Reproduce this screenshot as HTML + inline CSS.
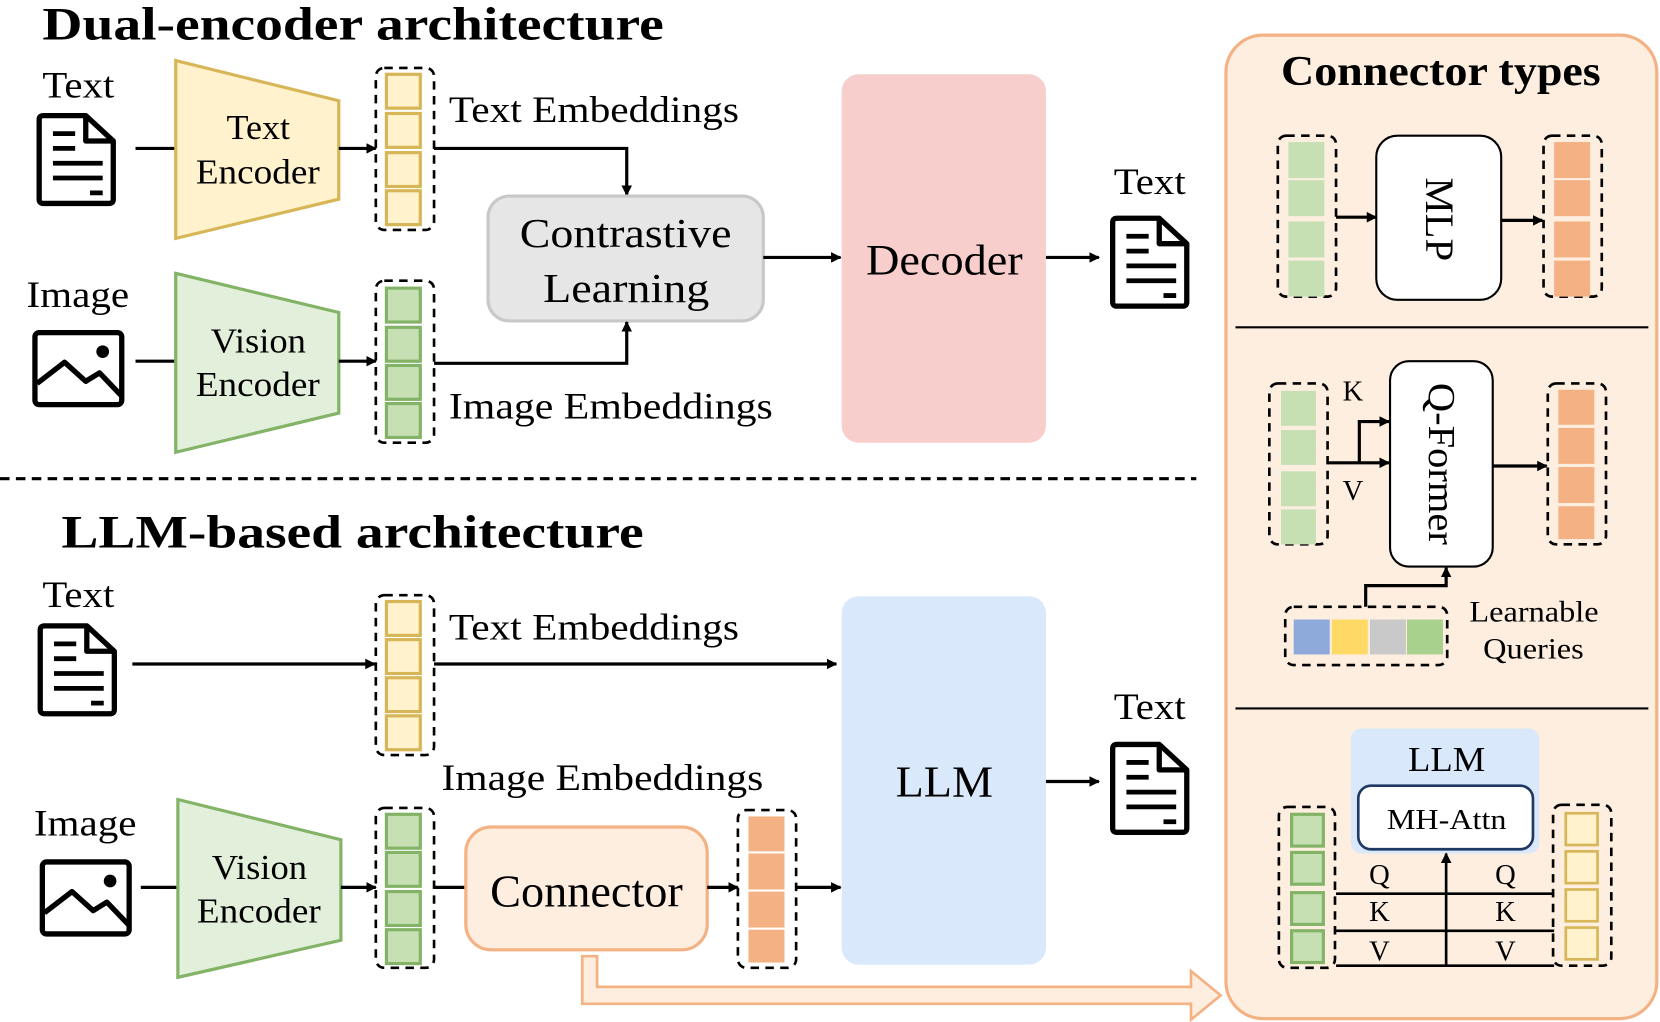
<!DOCTYPE html>
<html><head><meta charset="utf-8"><style>
html,body{margin:0;padding:0;background:#fff;width:1660px;height:1022px;overflow:hidden}
svg{display:block}
text{font-family:"Liberation Serif",serif;fill:#000}
</style></head><body>
<svg width="1660" height="1022" viewBox="0 0 1568 965" xmlns="http://www.w3.org/2000/svg">
<defs>
<marker id="ah" markerWidth="10" markerHeight="10" refX="9" refY="5" orient="auto" markerUnits="userSpaceOnUse"><path d="M0,0 L10,5 L0,10 z" fill="#000"/></marker>
<g id="doc"><path d="M4,3 H44 L70,27 V82 Q70,86 66,86 H4 Q0,86 0,82 V7 Q0,3 4,3 Z" fill="none" stroke="#000" stroke-width="5" stroke-linejoin="round"/><path d="M44,3 V27 H70" fill="none" stroke="#000" stroke-width="5" stroke-linejoin="round"/><path d="M13,20 H34 M13,34 H34 M13,48 H60 M13,62 H60 M48,76 H60" stroke="#000" stroke-width="4.5"/></g>
<g id="img"><rect x="2" y="2" width="82" height="68" rx="4" fill="none" stroke="#000" stroke-width="5"/><path d="M4,50 L30,30 L50,48 L63,40 L84,62" fill="none" stroke="#000" stroke-width="5" stroke-linejoin="round"/><circle cx="66" cy="20" r="6" fill="#000"/></g>
</defs>

<!-- ===== Top ===== -->
<text x="40" y="37" font-size="44" font-weight="bold" textLength="587" lengthAdjust="spacingAndGlyphs">Dual-encoder architecture</text>
<text x="40" y="92" font-size="35" textLength="68" lengthAdjust="spacingAndGlyphs">Text</text>
<use href="#doc" x="37" y="106"/>
<line x1="128" y1="140" x2="166" y2="140" stroke="#000" stroke-width="3"/>
<polygon points="166,57 320,95 320,188 166,225" fill="#fff2cc" stroke="#d6b656" stroke-width="3"/>
<text x="214" y="131" font-size="33" textLength="60" lengthAdjust="spacingAndGlyphs">Text</text>
<text x="185" y="173" font-size="33" textLength="117" lengthAdjust="spacingAndGlyphs">Encoder</text>
<line x1="320" y1="140" x2="355" y2="140" stroke="#000" stroke-width="3" marker-end="url(#ah)"/>
<rect x="355" y="64" width="55" height="153" rx="8" fill="none" stroke="#000" stroke-width="2.5" stroke-dasharray="8,6"/>
<g fill="#fff2cc" stroke="#d6b656" stroke-width="3"><rect x="365" y="70" width="32" height="32"/><rect x="365" y="107" width="32" height="32"/><rect x="365" y="144" width="32" height="32"/><rect x="365" y="180" width="32" height="32"/></g>
<text x="424" y="115" font-size="35" textLength="274" lengthAdjust="spacingAndGlyphs">Text Embeddings</text>
<polyline points="410,140 592,140 592,184" fill="none" stroke="#000" stroke-width="3" marker-end="url(#ah)"/>
<rect x="461" y="185" width="260" height="118" rx="20" fill="#e6e6e6" stroke="#c8c8c8" stroke-width="3"/>
<text x="491" y="233" font-size="39" textLength="200" lengthAdjust="spacingAndGlyphs">Contrastive</text>
<text x="513" y="285" font-size="39" textLength="157" lengthAdjust="spacingAndGlyphs">Learning</text>
<polyline points="410,343 592,343 592,304" fill="none" stroke="#000" stroke-width="3" marker-end="url(#ah)"/>
<text x="25" y="290" font-size="35" textLength="97" lengthAdjust="spacingAndGlyphs">Image</text>
<use href="#img" x="31" y="312"/>
<line x1="128" y1="341" x2="166" y2="341" stroke="#000" stroke-width="3"/>
<polygon points="166,258 320,295 320,390 166,427" fill="#e2efda" stroke="#82b366" stroke-width="3"/>
<text x="199" y="333" font-size="33" textLength="90" lengthAdjust="spacingAndGlyphs">Vision</text>
<text x="185" y="374" font-size="33" textLength="117" lengthAdjust="spacingAndGlyphs">Encoder</text>
<line x1="320" y1="341" x2="355" y2="341" stroke="#000" stroke-width="3" marker-end="url(#ah)"/>
<rect x="355" y="265" width="55" height="153" rx="8" fill="none" stroke="#000" stroke-width="2.5" stroke-dasharray="8,6"/>
<g fill="#c6e0b4" stroke="#82b366" stroke-width="3"><rect x="365" y="272" width="32" height="32"/><rect x="365" y="309" width="32" height="32"/><rect x="365" y="345" width="32" height="32"/><rect x="365" y="381" width="32" height="32"/></g>
<text x="424" y="395" font-size="35" textLength="306" lengthAdjust="spacingAndGlyphs">Image Embeddings</text>
<line x1="721" y1="243" x2="794" y2="243" stroke="#000" stroke-width="3" marker-end="url(#ah)"/>
<rect x="795" y="70" width="193" height="348" rx="16" fill="#f8cecc"/>
<text x="818" y="259" font-size="41" textLength="148" lengthAdjust="spacingAndGlyphs">Decoder</text>
<line x1="988" y1="243" x2="1038" y2="243" stroke="#000" stroke-width="3" marker-end="url(#ah)"/>
<text x="1052" y="183" font-size="35" textLength="68" lengthAdjust="spacingAndGlyphs">Text</text>
<use href="#doc" x="1051" y="203"/>

<line x1="0" y1="452" x2="1130" y2="452" stroke="#000" stroke-width="3" stroke-dasharray="9,6"/>

<!-- ===== Bottom ===== -->
<text x="58" y="517" font-size="44" font-weight="bold" textLength="550" lengthAdjust="spacingAndGlyphs">LLM-based architecture</text>
<text x="40" y="573" font-size="35" textLength="68" lengthAdjust="spacingAndGlyphs">Text</text>
<use href="#doc" x="38" y="588"/>
<line x1="125" y1="627" x2="354" y2="627" stroke="#000" stroke-width="3" marker-end="url(#ah)"/>
<rect x="355" y="562" width="55" height="151" rx="8" fill="none" stroke="#000" stroke-width="2.5" stroke-dasharray="8,6"/>
<g fill="#fff2cc" stroke="#d6b656" stroke-width="3"><rect x="365" y="568" width="32" height="32"/><rect x="365" y="604" width="32" height="32"/><rect x="365" y="640" width="32" height="32"/><rect x="365" y="676" width="32" height="32"/></g>
<text x="424" y="604" font-size="35" textLength="274" lengthAdjust="spacingAndGlyphs">Text Embeddings</text>
<line x1="410" y1="627" x2="790" y2="627" stroke="#000" stroke-width="3" marker-end="url(#ah)"/>
<rect x="795" y="563" width="193" height="348" rx="16" fill="#dae8fc"/>
<text x="846" y="752" font-size="42" textLength="92" lengthAdjust="spacingAndGlyphs">LLM</text>
<line x1="988" y1="738" x2="1038" y2="738" stroke="#000" stroke-width="3" marker-end="url(#ah)"/>
<text x="1052" y="679" font-size="35" textLength="68" lengthAdjust="spacingAndGlyphs">Text</text>
<use href="#doc" x="1051" y="700"/>
<text x="417" y="746" font-size="35" textLength="304" lengthAdjust="spacingAndGlyphs">Image Embeddings</text>
<text x="32" y="789" font-size="35" textLength="97" lengthAdjust="spacingAndGlyphs">Image</text>
<use href="#img" x="38" y="812"/>
<line x1="133" y1="838" x2="168" y2="838" stroke="#000" stroke-width="3"/>
<polygon points="168,755 322,793 322,888 168,923" fill="#e2efda" stroke="#82b366" stroke-width="3"/>
<text x="200" y="830" font-size="33" textLength="90" lengthAdjust="spacingAndGlyphs">Vision</text>
<text x="186" y="871" font-size="33" textLength="117" lengthAdjust="spacingAndGlyphs">Encoder</text>
<line x1="322" y1="838" x2="355" y2="838" stroke="#000" stroke-width="3" marker-end="url(#ah)"/>
<rect x="355" y="763" width="55" height="151" rx="8" fill="none" stroke="#000" stroke-width="2.5" stroke-dasharray="8,6"/>
<g fill="#c6e0b4" stroke="#82b366" stroke-width="3"><rect x="365" y="769" width="32" height="32"/><rect x="365" y="805" width="32" height="32"/><rect x="365" y="842" width="32" height="32"/><rect x="365" y="878" width="32" height="32"/></g>
<line x1="410" y1="838" x2="440" y2="838" stroke="#000" stroke-width="3"/>
<path d="M550,903 V948 H1125 V963 L1153,940 L1125,917 V932 H564 V903 Z" fill="#fdeee0" stroke="#f4b183" stroke-width="2.5"/>
<rect x="440" y="781" width="228" height="116" rx="24" fill="#fdeee0" stroke="#f4b183" stroke-width="3"/>
<text x="463" y="856" font-size="43" textLength="182" lengthAdjust="spacingAndGlyphs">Connector</text>
<line x1="668" y1="838" x2="697" y2="838" stroke="#000" stroke-width="3" marker-end="url(#ah)"/>
<rect x="697" y="765" width="55" height="149" rx="8" fill="none" stroke="#000" stroke-width="2.5" stroke-dasharray="8,6"/>
<g fill="#f4b183"><rect x="707" y="771" width="34" height="33"/><rect x="707" y="806" width="34" height="34"/><rect x="707" y="842" width="34" height="34"/><rect x="707" y="878" width="34" height="31"/></g>
<line x1="752" y1="838" x2="794" y2="838" stroke="#000" stroke-width="3" marker-end="url(#ah)"/>

<!-- ===== Right panel ===== -->
<rect x="1158" y="33" width="407" height="929" rx="35" fill="#fdeee0" stroke="#f4b183" stroke-width="3"/>
<text x="1210" y="80" font-size="40" font-weight="bold" textLength="302" lengthAdjust="spacingAndGlyphs">Connector types</text>
<!-- MLP -->
<rect x="1207" y="128" width="55" height="152" rx="8" fill="none" stroke="#000" stroke-width="2.5" stroke-dasharray="8,6"/>
<g fill="#c6e0b4"><rect x="1217" y="134" width="34" height="34"/><rect x="1217" y="170" width="34" height="34"/><rect x="1217" y="209" width="34" height="34"/><rect x="1217" y="246" width="34" height="34"/></g>
<line x1="1262" y1="205" x2="1300" y2="205" stroke="#000" stroke-width="3" marker-end="url(#ah)"/>
<rect x="1300" y="128" width="118" height="155" rx="20" fill="#fff" stroke="#000" stroke-width="2"/>
<text x="1359" y="207" font-size="38" text-anchor="middle" transform="rotate(90 1359 207)" dy="12" textLength="79" lengthAdjust="spacingAndGlyphs">MLP</text>
<line x1="1418" y1="208" x2="1457" y2="208" stroke="#000" stroke-width="3" marker-end="url(#ah)"/>
<rect x="1458" y="128" width="55" height="152" rx="8" fill="none" stroke="#000" stroke-width="2.5" stroke-dasharray="8,6"/>
<g fill="#f4b183"><rect x="1468" y="134" width="34" height="34"/><rect x="1468" y="170" width="34" height="34"/><rect x="1468" y="209" width="34" height="34"/><rect x="1468" y="246" width="34" height="34"/></g>
<line x1="1167" y1="309" x2="1557" y2="309" stroke="#000" stroke-width="2"/>
<!-- Q-Former -->
<rect x="1199" y="362" width="55" height="152" rx="8" fill="none" stroke="#000" stroke-width="2.5" stroke-dasharray="8,6"/>
<g fill="#c6e0b4"><rect x="1210" y="369" width="33" height="33"/><rect x="1210" y="406" width="33" height="33"/><rect x="1210" y="445" width="33" height="33"/><rect x="1210" y="481" width="33" height="33"/></g>
<text x="1278" y="378" font-size="27" text-anchor="middle">K</text>
<text x="1278" y="472" font-size="27" text-anchor="middle">V</text>
<line x1="1254" y1="437" x2="1312" y2="437" stroke="#000" stroke-width="3" marker-end="url(#ah)"/>
<polyline points="1284,437 1284,398 1312,398" fill="none" stroke="#000" stroke-width="3" marker-end="url(#ah)"/>
<rect x="1313" y="341" width="97" height="194" rx="18" fill="#fff" stroke="#000" stroke-width="2"/>
<text x="1361" y="438" font-size="36" text-anchor="middle" transform="rotate(90 1361 438)" dy="11" textLength="153" lengthAdjust="spacingAndGlyphs">Q-Former</text>
<line x1="1410" y1="440" x2="1461" y2="440" stroke="#000" stroke-width="3" marker-end="url(#ah)"/>
<rect x="1462" y="362" width="55" height="152" rx="8" fill="none" stroke="#000" stroke-width="2.5" stroke-dasharray="8,6"/>
<g fill="#f4b183"><rect x="1472" y="368" width="34" height="33"/><rect x="1472" y="404" width="34" height="34"/><rect x="1472" y="441" width="34" height="34"/><rect x="1472" y="478" width="34" height="31"/></g>
<rect x="1214" y="573" width="153" height="55" rx="8" fill="none" stroke="#000" stroke-width="2.5" stroke-dasharray="8,6"/>
<rect x="1222" y="585" width="34" height="33" fill="#8eaadb"/><rect x="1258" y="585" width="34" height="33" fill="#ffd966"/><rect x="1294" y="585" width="34" height="33" fill="#c9c9c9"/><rect x="1329" y="585" width="34" height="33" fill="#a9d18e"/>
<polyline points="1290,573 1290,553 1366,553 1366,536" fill="none" stroke="#000" stroke-width="3" marker-end="url(#ah)"/>
<text x="1388" y="587" font-size="28" textLength="122" lengthAdjust="spacingAndGlyphs">Learnable</text>
<text x="1401" y="622" font-size="28" textLength="95" lengthAdjust="spacingAndGlyphs">Queries</text>
<line x1="1167" y1="669" x2="1557" y2="669" stroke="#000" stroke-width="2"/>
<!-- LLM attention -->
<rect x="1276" y="688" width="178" height="118" rx="10" fill="#dae8fc"/>
<text x="1330" y="728" font-size="33" textLength="73" lengthAdjust="spacingAndGlyphs">LLM</text>
<rect x="1283" y="742" width="165" height="60" rx="12" fill="#fff" stroke="#1f3864" stroke-width="2.5"/>
<text x="1310" y="783" font-size="27" textLength="113" lengthAdjust="spacingAndGlyphs">MH-Attn</text>
<rect x="1208" y="762" width="53" height="152" rx="8" fill="none" stroke="#000" stroke-width="2.5" stroke-dasharray="8,6"/>
<g fill="#c6e0b4" stroke="#82b366" stroke-width="3"><rect x="1220" y="769" width="30" height="30"/><rect x="1220" y="805" width="30" height="30"/><rect x="1220" y="843" width="30" height="30"/><rect x="1220" y="879" width="30" height="30"/></g>
<rect x="1467" y="760" width="55" height="152" rx="8" fill="none" stroke="#000" stroke-width="2.5" stroke-dasharray="8,6"/>
<g fill="#fff2cc" stroke="#d6b656" stroke-width="2.5"><rect x="1479" y="768" width="30" height="30"/><rect x="1479" y="804" width="30" height="30"/><rect x="1479" y="840" width="30" height="30"/><rect x="1479" y="876" width="30" height="30"/></g>
<g stroke="#000" stroke-width="2.5"><line x1="1262" y1="844" x2="1468" y2="844"/><line x1="1262" y1="879" x2="1468" y2="879"/><line x1="1262" y1="912" x2="1468" y2="912"/></g>
<line x1="1366" y1="912" x2="1366" y2="806" stroke="#000" stroke-width="2.5" marker-end="url(#ah)"/>
<g font-size="27" text-anchor="middle"><text x="1303" y="835">Q</text><text x="1303" y="870">K</text><text x="1303" y="907">V</text><text x="1422" y="835">Q</text><text x="1422" y="870">K</text><text x="1422" y="907">V</text></g>
</svg>
</body></html>
